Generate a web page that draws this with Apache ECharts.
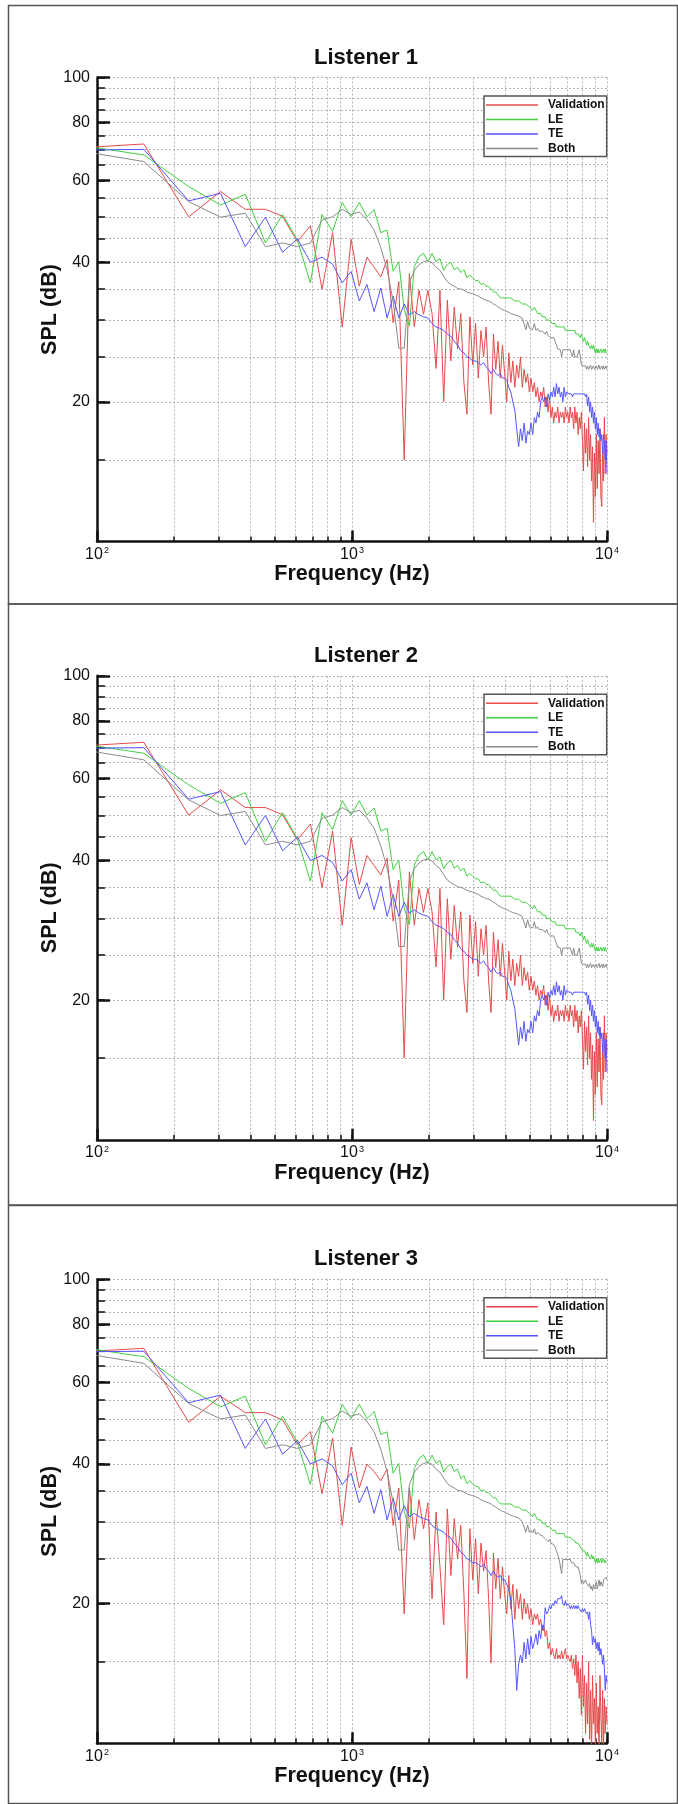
<!DOCTYPE html>
<html>
<head>
<meta charset="utf-8">
<title>SPL spectra - Listeners 1 to 3</title>
<script src="https://cdn.jsdelivr.net/npm/echarts@6/dist/echarts.min.js"></script>
<style>
  html, body { margin: 0; padding: 0; background: #fff; }
  #main { width: 678px; height: 1804px; }
</style>
</head>
<body>
<div id="main"></div>
<script>
// spectra are sampled on a uniform grid: point k (1-based) sits at k * DF Hz
var DF = 76.3;

var SERIES_NAMES = ['Validation', 'LE', 'TE', 'Both'];
var SERIES_COLORS = ['#e64a4a', '#40d040', '#5555ff', '#8a8a8a'];

var Y_MAJOR = [20, 40, 60, 80, 100];
var Y_GRID = [15, 20, 25, 30, 35, 40, 45, 50, 55, 60, 65, 70, 75, 80, 85, 90, 95, 100];
var X_MAJOR = [100, 1000, 10000];
var X_GRID = [200, 300, 400, 500, 600, 700, 800, 900, 1000,
              2000, 3000, 4000, 5000, 6000, 7000, 8000, 9000, 10000];

// Listener 1 (listener 2 reads the same), SPL (dB) per frequency bin
var VALIDATION_1 = [
  70.3, 71.9, 50.1, 56.8, 52.0, 52.0, 50.2, 44.3, 47.9, 35.0,
  46.3, 29.0, 44.8, 35.5, 41.0, 39.0, 37.2, 40.5, 29.6, 36.3,
  15.0, 37.8, 29.0, 34.8, 30.9, 34.8, 31.0, 23.6, 34.8, 20.0,
  33.1, 24.5, 32.0, 26.0, 31.0, 22.0, 18.8, 30.5, 24.0, 29.5,
  22.5, 28.5, 25.0, 29.0, 22.0, 18.8, 28.0, 23.5, 27.0, 22.5,
  26.5, 23.0, 20.0, 25.5, 22.0, 24.5, 21.5, 24.0, 22.5, 25.0,
  21.5, 23.5, 22.0, 23.0, 21.0, 22.5, 21.0, 22.0, 20.5, 21.5,
  20.0, 21.0, 20.5, 21.5, 19.5, 20.5, 19.0, 20.5, 18.5, 19.5,
  18.0, 19.0, 18.5, 19.5, 18.0, 19.0, 18.5, 19.0, 18.0, 19.5,
  18.5, 19.0, 18.0, 19.5, 18.5, 19.0, 17.5, 19.5, 18.0, 19.0,
  17.0, 18.5, 17.5, 19.0, 16.5, 14.2, 18.0, 15.5, 17.5, 14.5,
  18.5, 15.0, 17.0, 13.5, 16.0, 11.0, 15.5, 12.5, 17.0, 13.0,
  16.5, 14.0, 17.5, 12.5, 11.9, 16.0, 13.5, 18.5, 14.0, 17.0, 15.5
];
var LE_1 = [
  72.1, 68.1, 58.2, 53.1, 56.0, 44.0, 50.7, 44.6, 36.1, 50.7,
  46.6, 53.8, 50.1, 53.8, 50.1, 51.9, 46.3, 46.9, 38.2, 40.1,
  31.6, 29.1, 39.1, 41.1, 41.8, 40.1, 41.8, 40.1, 40.7, 38.4,
  39.5, 40.0, 38.5, 39.0, 38.0, 38.5, 37.0, 37.5, 37.0, 36.5,
  36.5, 35.8, 36.0, 35.5, 35.5, 35.0, 34.5, 34.5, 34.0, 33.5,
  33.5, 33.5, 33.5, 33.5, 33.5, 33.5, 33.0, 33.0, 33.0, 33.0,
  32.5, 32.5, 32.5, 32.5, 32.0, 32.0, 31.5, 32.0, 31.5, 31.0,
  31.0, 31.0, 30.5, 30.5, 30.5, 30.0, 30.0, 30.0, 30.0, 29.5,
  29.5, 29.5, 29.0, 29.0, 29.0, 29.0, 29.0, 29.0, 29.0, 28.5,
  28.5, 28.5, 28.5, 28.5, 28.5, 28.5, 28.5, 28.5, 28.0, 28.0,
  28.0, 28.0, 27.5, 28.0, 27.5, 27.0, 27.5, 27.0, 26.5, 27.0,
  26.5, 26.5, 26.0, 26.5, 26.0, 26.5, 26.0, 25.5, 26.0, 25.5,
  26.0, 25.5, 25.5, 26.0, 25.5, 25.5, 26.0, 25.5, 26.0, 25.5, 25.5
];
var TE_1 = [
  69.7, 70.0, 54.2, 56.3, 43.2, 50.0, 42.0, 44.9, 40.0, 41.0,
  39.6, 36.1, 38.2, 33.0, 35.8, 31.3, 35.2, 30.3, 33.8, 30.3,
  32.5, 30.8, 31.3, 30.8, 30.5, 30.3, 29.5, 29.0, 28.8, 28.5,
  28.0, 27.7, 27.0, 26.5, 25.8, 25.5, 25.0, 24.8, 24.5, 24.5,
  24.3, 24.0, 24.3, 23.8, 23.5, 23.0, 23.5, 23.0, 22.8, 23.0,
  22.5, 22.5, 22.3, 21.5, 21.0, 20.0, 19.2, 17.5, 16.0, 17.5,
  16.5, 18.0, 16.3, 17.3, 17.0, 18.0, 17.0, 18.5, 18.0, 19.0,
  18.5, 20.0, 20.5, 20.0, 20.5, 19.5, 20.8, 20.2, 21.0, 20.5,
  21.5, 20.5, 21.9, 20.8, 21.5, 20.5, 21.0, 20.0, 21.5, 20.5,
  21.0, 20.8, 20.8, 20.8, 20.8, 20.5, 20.8, 20.8, 20.8, 20.8,
  20.8, 20.8, 20.8, 20.8, 20.8, 20.8, 20.8, 20.5, 20.8, 19.6,
  20.5, 19.0, 20.0, 18.5, 19.5, 18.0, 19.0, 17.5, 18.5, 17.0,
  18.0, 16.8, 17.5, 16.5, 17.0, 15.5, 17.0, 16.3, 15.0, 16.5, 14.0
];
var BOTH_1 = [
  70.2, 65.9, 54.0, 50.0, 51.0, 43.2, 44.0, 43.2, 44.0, 49.3,
  50.1, 52.0, 50.7, 51.3, 49.4, 46.9, 43.0, 38.5, 33.0, 26.1,
  26.1, 36.1, 38.4, 39.5, 40.1, 40.3, 39.9, 39.0, 38.4, 37.3,
  36.3, 35.8, 35.5, 35.1, 35.0, 34.8, 34.5, 34.3, 34.2, 34.0,
  33.8, 33.5, 33.3, 33.1, 33.0, 32.8, 32.5, 32.3, 32.0, 31.8,
  31.6, 31.5, 31.3, 31.2, 31.0, 31.0, 30.8, 30.8, 30.6, 30.5,
  30.3, 30.1, 28.6, 29.8, 28.8, 29.0, 28.6, 29.5, 28.5, 28.8,
  28.4, 28.4, 28.4, 28.4, 28.0, 28.4, 27.8, 28.0, 27.5, 27.5,
  27.5, 27.0, 26.5, 26.0, 25.9, 25.9, 25.0, 25.9, 25.9, 25.9,
  25.9, 25.9, 25.9, 25.9, 25.9, 25.0, 25.9, 25.0, 25.0, 25.0,
  25.0, 25.9, 25.0, 24.0, 24.0, 23.9, 23.9, 23.9, 23.5, 23.9,
  23.5, 23.5, 24.0, 23.5, 23.5, 23.9, 23.5, 23.5, 23.9, 23.5,
  23.5, 24.0, 23.5, 23.5, 23.9, 23.5, 23.9, 23.5, 23.5, 23.9, 23.5
];

// Listener 3
var VALIDATION_3 = [
  69.5, 71.0, 49.2, 56.0, 51.6, 51.6, 49.8, 44.0, 47.0, 34.5,
  45.5, 29.5, 43.5, 35.5, 40.0, 38.5, 36.8, 39.0, 29.5, 35.5,
  19.0, 35.5, 27.5, 33.5, 29.0, 33.0, 20.5, 31.5, 24.0, 18.0,
  32.0, 23.0, 30.5, 25.0, 29.5, 21.0, 13.8, 29.0, 22.5, 27.6,
  21.0, 27.0, 23.5, 26.0, 20.5, 14.9, 25.7, 21.5, 25.0, 20.5,
  24.0, 21.0, 19.0, 23.0, 19.5, 22.0, 18.5, 21.5, 19.5, 21.0,
  18.5, 20.5, 19.0, 20.0, 18.5, 19.5, 18.0, 19.0, 18.5, 19.0,
  18.0, 18.5, 17.5, 18.0, 17.0, 17.5, 16.0, 16.5, 15.5, 16.0,
  15.5, 15.2, 16.0, 15.2, 15.5, 15.2, 15.8, 15.2, 15.2, 16.0,
  15.2, 15.5, 15.2, 15.0, 15.5, 14.5, 15.2, 14.0, 15.5, 13.5,
  15.0, 12.5, 14.5, 11.5, 15.5, 12.0, 14.0, 10.5, 13.5, 11.0,
  15.0, 10.2, 13.0, 9.5, 14.0, 11.0, 12.5, 9.8, 13.5, 10.5,
  12.0, 9.5, 14.0, 11.5, 10.0, 13.0, 9.8, 12.5, 10.5, 12.0, 11.0
];
var LE_3 = [
  72.1, 68.1, 58.2, 53.1, 56.0, 44.0, 50.7, 44.6, 36.1, 50.7,
  46.6, 53.8, 50.1, 53.8, 50.1, 51.9, 46.3, 46.9, 38.2, 40.1,
  31.6, 29.1, 39.1, 41.1, 41.8, 40.1, 41.8, 40.1, 40.7, 38.4,
  39.5, 40.0, 38.5, 39.0, 37.2, 37.7, 36.3, 36.8, 36.2, 35.8,
  35.7, 35.0, 35.2, 34.7, 34.7, 34.2, 33.8, 33.8, 33.2, 32.8,
  32.8, 32.8, 32.8, 32.8, 32.8, 32.8, 32.3, 32.3, 32.3, 32.3,
  31.8, 31.8, 31.8, 31.8, 31.3, 31.3, 30.8, 31.3, 30.8, 30.3,
  30.3, 30.3, 29.8, 29.8, 29.8, 29.3, 29.3, 29.3, 29.3, 28.8,
  28.8, 28.8, 28.3, 28.3, 28.3, 28.3, 28.3, 28.3, 28.3, 27.8,
  27.8, 27.8, 27.8, 27.8, 27.8, 27.5, 27.5, 27.3, 27.0, 27.0,
  27.0, 26.8, 26.5, 26.3, 26.0, 25.8, 26.0, 25.8, 25.3, 25.8,
  25.3, 25.3, 25.0, 25.5, 25.0, 25.3, 24.8, 24.5, 25.0, 24.5,
  25.0, 24.5, 24.5, 25.0, 24.5, 24.5, 25.0, 24.5, 24.8, 24.5, 24.5
];
var TE_3 = [
  69.7, 70.0, 54.2, 56.3, 43.2, 50.0, 42.0, 44.9, 40.0, 41.0,
  39.6, 36.1, 38.2, 33.0, 35.8, 31.3, 35.2, 30.3, 33.8, 30.3,
  32.5, 30.8, 31.3, 30.8, 30.5, 30.3, 29.5, 29.0, 28.8, 28.5,
  28.0, 27.7, 27.0, 26.5, 25.8, 25.5, 25.0, 24.8, 24.5, 24.5,
  24.3, 24.0, 24.3, 23.8, 23.5, 23.0, 23.5, 23.0, 22.8, 23.0,
  22.5, 22.5, 22.0, 21.5, 20.3, 18.0, 16.0, 13.0, 14.8, 15.5,
  14.9, 16.5, 15.2, 16.8, 15.5, 17.0, 16.0, 16.5, 17.2, 16.3,
  17.5, 16.8, 18.0, 17.5, 19.6, 19.0, 19.2, 19.8, 19.5, 20.0,
  19.8, 20.3, 20.0, 20.5, 20.3, 20.5, 20.8, 20.0, 19.8, 20.3,
  19.8, 20.0, 19.8, 19.5, 19.8, 19.5, 19.8, 19.5, 19.8, 19.5,
  19.8, 19.5, 19.5, 19.2, 19.5, 19.2, 19.5, 19.2, 19.0, 19.2,
  18.5, 19.2, 18.0, 17.5, 16.3, 17.0, 16.5, 16.8, 16.0, 16.5,
  15.8, 16.5, 15.5, 16.0, 15.5, 14.8, 15.5, 14.5, 13.0, 14.0, 13.5
];
var BOTH_3 = [
  70.2, 65.9, 54.0, 50.0, 51.0, 43.2, 44.0, 43.2, 44.0, 49.3,
  50.1, 52.0, 50.7, 51.3, 49.4, 46.9, 43.0, 38.5, 33.0, 26.1,
  26.1, 36.1, 38.4, 39.5, 40.1, 40.3, 39.9, 39.0, 38.4, 37.3,
  36.3, 35.8, 35.5, 35.1, 35.0, 34.8, 34.5, 34.3, 34.2, 34.0,
  33.8, 33.5, 33.3, 33.1, 33.0, 32.8, 32.5, 32.3, 32.0, 31.8,
  31.6, 31.5, 31.3, 31.2, 31.0, 31.0, 30.8, 30.8, 30.6, 30.5,
  30.0, 29.8, 28.5, 29.5, 28.5, 28.8, 28.4, 29.0, 28.2, 28.5,
  28.2, 28.0, 28.0, 28.0, 27.6, 27.8, 27.2, 27.5, 27.0, 27.0,
  26.8, 26.5, 26.0, 25.5, 25.0, 24.9, 23.2, 24.9, 24.9, 24.9,
  24.9, 24.9, 24.9, 24.9, 24.5, 24.5, 24.5, 24.5, 24.0, 24.0,
  24.0, 23.5, 23.0, 22.1, 22.5, 22.1, 22.1, 22.5, 22.1, 22.1,
  21.8, 22.1, 21.5, 21.8, 21.3, 22.0, 21.5, 21.8, 22.3, 21.5,
  22.0, 22.5, 21.8, 22.3, 22.5, 21.8, 22.5, 22.3, 22.5, 22.8, 22.5
];

var PANELS = [
  { title: 'Listener 1', top: 77.5, height: 464, frameTop: 5.5, frameBottom: 604,
    lines: [VALIDATION_1, LE_1, TE_1, BOTH_1] },
  { title: 'Listener 2', top: 675.8, height: 464, frameTop: 604, frameBottom: 1205,
    lines: [VALIDATION_1, LE_1, TE_1, BOTH_1] },
  { title: 'Listener 3', top: 1279.3, height: 464, frameTop: 1205.5, frameBottom: 1803.5,
    lines: [VALIDATION_3, LE_3, TE_3, BOTH_3] }
];

var FONT = 'Liberation Sans, Arial, Helvetica, sans-serif';
var PLOT_LEFT = 97, PLOT_WIDTH = 510;

var grids = [], xAxes = [], yAxes = [], series = [], legends = [], graphics = [];

PANELS.forEach(function (p, i) {
  grids.push({ left: PLOT_LEFT, top: p.top, width: PLOT_WIDTH, height: p.height });

  // labelled frequency axis with decade ticks
  xAxes.push({
    type: 'log', logBase: 10, min: 100, max: 10000, gridIndex: i, position: 'bottom',
    axisLine: { onZero: false, lineStyle: { color: '#111', width: 2.5 } },
    axisTick: { inside: true, length: 11, customValues: X_MAJOR, lineStyle: { color: '#111', width: 2.5 } },
    axisLabel: {
      customValues: X_MAJOR, margin: 5, color: '#111',
      formatter: function (v) { return '{b|10}{s|' + Math.round(Math.log10(v)) + '}'; },
      rich: {
        b: { fontFamily: FONT, fontSize: 16, color: '#111' },
        s: { fontFamily: FONT, fontSize: 9, color: '#111', verticalAlign: 'top', padding: [0, 0, 4, 1] }
      }
    },
    splitLine: { show: false },
    name: 'Frequency (Hz)', nameLocation: 'middle', nameGap: 22, nameMoveOverlap: false,
    nameTextStyle: { fontFamily: FONT, fontSize: 21.5, fontWeight: 'bold', color: '#111' }
  });
  // grid lines and minor ticks
  xAxes.push({
    type: 'log', logBase: 10, min: 100, max: 10000, gridIndex: i, position: 'bottom',
    axisLine: { show: false },
    axisTick: { inside: true, length: 5, customValues: X_GRID, lineStyle: { color: '#111', width: 1.5 } },
    axisLabel: { show: false },
    splitLine: { show: true, lineStyle: { color: '#b4b4b4', width: 1, type: [2, 2] } }
  });

  yAxes.push({
    type: 'log', logBase: 10, min: 10, max: 100, gridIndex: i, position: 'left',
    axisLine: { onZero: false, lineStyle: { color: '#111', width: 2.5 } },
    axisTick: { inside: true, length: 13, customValues: Y_MAJOR, lineStyle: { color: '#111', width: 2.5 } },
    axisLabel: { customValues: Y_MAJOR, margin: 7, fontFamily: FONT, fontSize: 16, color: '#111' },
    splitLine: { show: false },
    name: 'SPL (dB)', nameLocation: 'middle', nameGap: 36, nameMoveOverlap: false,
    nameTextStyle: { fontFamily: FONT, fontSize: 21.5, fontWeight: 'bold', color: '#111' }
  });
  yAxes.push({
    type: 'log', logBase: 10, min: 10, max: 100, gridIndex: i, position: 'left',
    axisLine: { show: false },
    axisTick: { inside: true, length: 8, customValues: Y_GRID, lineStyle: { color: '#111', width: 1.5 } },
    axisLabel: { show: false },
    splitLine: { show: true, lineStyle: { color: '#b4b4b4', width: 1, type: [2, 2] } }
  });

  p.lines.forEach(function (vals, s) {
    series.push({
      name: SERIES_NAMES[s], type: 'line', xAxisIndex: 2 * i, yAxisIndex: 2 * i,
      data: vals.map(function (v, k) { return [(k + 1) * DF, v]; }),
      symbol: 'none', clip: true, z: 3,
      lineStyle: { color: SERIES_COLORS[s], width: 1 },
      itemStyle: { color: SERIES_COLORS[s] }
    });
  });

  legends.push({
    orient: 'vertical', left: 484, top: p.top + 18.5,
    data: SERIES_NAMES, icon: 'rect', itemWidth: 52, itemHeight: 1.5, itemGap: 0.5,
    backgroundColor: '#fff', borderColor: '#555', borderWidth: 1.5, padding: [2, 2, 1, 2],
    selectedMode: false, z: 10,
    textStyle: { fontFamily: FONT, fontSize: 12, fontWeight: 'bold', color: '#111', lineHeight: 14, padding: [0, 0, 0, 5] }
  });

  graphics.push({
    type: 'text', x: 366, y: p.top - 20,
    style: { text: p.title, fontFamily: FONT, fontSize: 22, fontWeight: 'bold', fill: '#111',
             align: 'center', verticalAlign: 'middle' }
  });
  graphics.push({
    type: 'rect', silent: true,
    shape: { x: 8.5, y: p.frameTop, width: 669, height: p.frameBottom - p.frameTop },
    style: { fill: 'none', stroke: '#555', lineWidth: 1.5 }
  });
});

var chart = echarts.init(document.getElementById('main'), null, { renderer: 'canvas' });
chart.setOption({
  animation: false,
  backgroundColor: '#fff',
  textStyle: { fontFamily: FONT },
  grid: grids,
  xAxis: xAxes,
  yAxis: yAxes,
  legend: legends,
  series: series,
  graphic: graphics
});
</script>
</body>
</html>
